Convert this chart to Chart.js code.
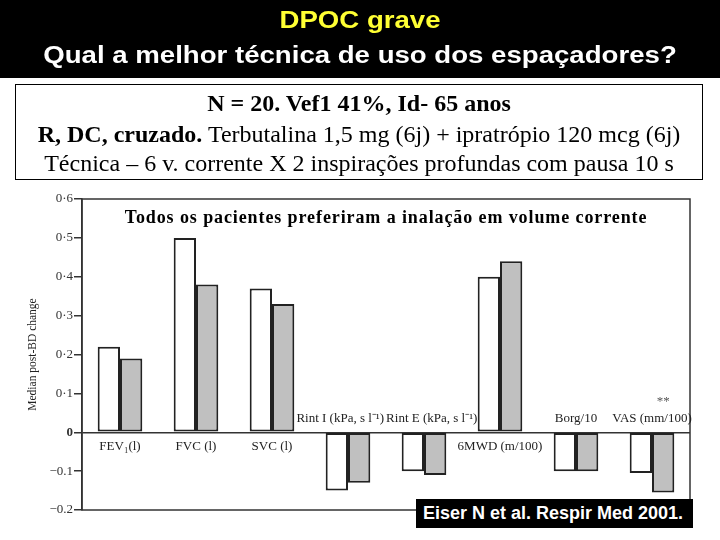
<!DOCTYPE html>
<html><head><meta charset="utf-8">
<script src="https://cdn.jsdelivr.net/npm/chart.js@4"></script>
<style>
html,body{margin:0;padding:0;width:720px;height:540px;overflow:hidden;background:#fff;}
#hdr{position:absolute;left:0;top:0;width:720px;height:78px;background:#000;z-index:1;}
#h1,#h2{position:absolute;left:0;width:720px;text-align:center;font:bold 23px "Liberation Sans",Arial,sans-serif;transform:scaleX(1.2);transform-origin:360px 0;white-space:nowrap;}
#h1{top:7px;color:#ffff33;}
#h2{top:42px;color:#fff;}
#box{position:absolute;left:15px;top:84px;width:688px;height:96px;border:1.5px solid #000;box-sizing:border-box;font-family:"Liberation Serif","Times New Roman",serif;font-size:24px;color:#000;text-align:center;z-index:1;}
.ln{position:absolute;left:0;width:100%;white-space:nowrap;line-height:28px;}
#wrap{position:absolute;left:0;top:0;width:720px;height:540px;z-index:0;}
#cite{position:absolute;left:416px;top:499px;width:277px;height:29px;background:#000;color:#fff;font:bold 18px "Liberation Sans",Arial,sans-serif;line-height:29px;padding-left:7px;box-sizing:border-box;z-index:2;white-space:nowrap;overflow:hidden;}
</style></head>
<body>
<div id="wrap"><canvas id="c" width="720" height="540"></canvas></div>
<div id="hdr"><div id="h1">DPOC grave</div><div id="h2">Qual a melhor técnica de uso dos espaçadores?</div></div>
<div id="box">
<div class="ln" style="top:4px"><b>N = 20. Vef1 41%, Id- 65 anos</b></div>
<div class="ln" style="top:35px"><b>R, DC, cruzado.</b> Terbutalina 1,5 mg (6j) + ipratrópio 120 mcg (6j)</div>
<div class="ln" style="top:64px">Técnica – 6 v. corrente X 2 inspirações profundas com pausa 10 s</div>
</div>
<div id="cite">Eiser N et al. Respir Med 2001.</div>
<script>
const categories = ['FEV\u2081(l)', 'FVC (l)', 'SVC (l)', 'Rint I (kPa, s l\u207B\u00B9)', 'Rint E (kPa, s l\u207B\u00B9)', '6MWD (m/100)', 'Borg/10', 'VAS (mm/100)'];
const seriesNames = ['Técnica 1', 'Técnica 2'];
const whiteValues = [0.22, 0.50, 0.37, -0.15, -0.10, 0.40, -0.10, -0.105];
const greyValues  = [0.19, 0.38, 0.33, -0.13, -0.11, 0.44, -0.10, -0.155];
const significance = ['', '', '', '', '', '', '', '**'];
const yTickValues = [-0.2, -0.1, 0, 0.1, 0.2, 0.3, 0.4, 0.5, 0.6];
const yTickLabels = ['\u22120.2', '\u22120.1', '0', '0\u00B71', '0\u00B72', '0\u00B73', '0\u00B74', '0\u00B75', '0\u00B76'];
const yAxisTitle = 'Median post-BD change';
const plotTitle = 'Todos os pacientes preferiram a inalação em volume corrente';

const SERIF = '"Liberation Serif", "Times New Roman", serif';

const annot = {
  id: 'annot',
  afterDatasetsDraw(chart) {
    const {ctx, chartArea: a, scales: {x, y}} = chart;
    ctx.save();
    ctx.strokeStyle = '#333';
    ctx.lineWidth = 1.5;
    ctx.strokeRect(a.left, a.top, a.right - a.left, a.bottom - a.top);
    // title
    ctx.fillStyle = '#000';
    ctx.textAlign = 'center';
    ctx.textBaseline = 'middle';
    ctx.font = 'bold 18px ' + SERIF;
    if ('letterSpacing' in ctx) ctx.letterSpacing = '0.9px';
    ctx.fillText(plotTitle, (a.left + a.right) / 2, a.top + 19);
    if ('letterSpacing' in ctx) ctx.letterSpacing = '0px';
    // category labels
    ctx.font = '13px ' + SERIF;
    ctx.fillStyle = '#222';
    const y0 = y.getPixelForValue(0);
    const items = categories.map((c, i) => {
      const up = Math.max(whiteValues[i], greyValues[i]) <= 0;
      return {text: c, cx: x.getPixelForValue(i), w: ctx.measureText(c).width, up};
    });
    for (let i = 1; i < items.length; i++) {
      const p = items[i - 1], q = items[i];
      if (p.up !== q.up) continue;
      const overlap = (p.cx + p.w / 2 + 2) - (q.cx - q.w / 2);
      if (overlap > 0) { p.cx -= overlap / 2; q.cx += overlap / 2; }
    }
    items.forEach((it, i) => {
      const ly = it.up ? y0 - 14 : y0 + 14;
      ctx.fillText(it.text, it.cx, ly);
      if (significance[i]) {
        const bar = chart.getDatasetMeta(1).data[i];
        ctx.fillStyle = '#555';
        ctx.fillText(significance[i], bar.x, ly - 17);
        ctx.fillStyle = '#222';
      }
    });
    ctx.restore();
  }
};

new Chart(document.getElementById('c'), {
  type: 'bar',
  data: {
    labels: categories,
    datasets: [
      {label: seriesNames[0], data: whiteValues, backgroundColor: '#ffffff', borderColor: '#222', borderWidth: 2, borderSkipped: false},
      {label: seriesNames[1], data: greyValues, backgroundColor: '#c0c0c0', borderColor: '#222', borderWidth: 2, borderSkipped: false}
    ]
  },
  options: {
    responsive: false,
    animation: false,
    layout: {padding: {left: 0, top: 199, right: 30, bottom: 30}},
    categoryPercentage: 0.587,
    barPercentage: 1.0,
    plugins: {legend: {display: false}, tooltip: {enabled: false}, title: {display: false}},
    scales: {
      x: {display: false},
      y: {
        min: -0.2, max: 0.6,
        afterBuildTicks: s => { s.ticks = yTickValues.map(v => ({value: v})); },
        afterFit: s => { s.width = 82; },
        border: {display: true, color: '#333', width: 1.5},
        grid: {
          color: c => (c.tick && c.tick.value === 0) ? '#333' : 'rgba(0,0,0,0)',
          lineWidth: 1.5,
          tickColor: '#333',
          tickLength: 8,
          drawTicks: true
        },
        ticks: {
          padding: 1,
          color: '#333',
          font: c => ({family: SERIF, size: 13, weight: (c.tick && c.tick.value === 0) ? 'bold' : 'normal'}),
          callback: (v, i) => yTickLabels[i]
        },
        title: {display: true, text: yAxisTitle, color: '#222', font: {family: SERIF, size: 11.5}, padding: {top: 26, bottom: 0}}
      }
    }
  },
  plugins: [annot]
});
</script>
</body></html>
